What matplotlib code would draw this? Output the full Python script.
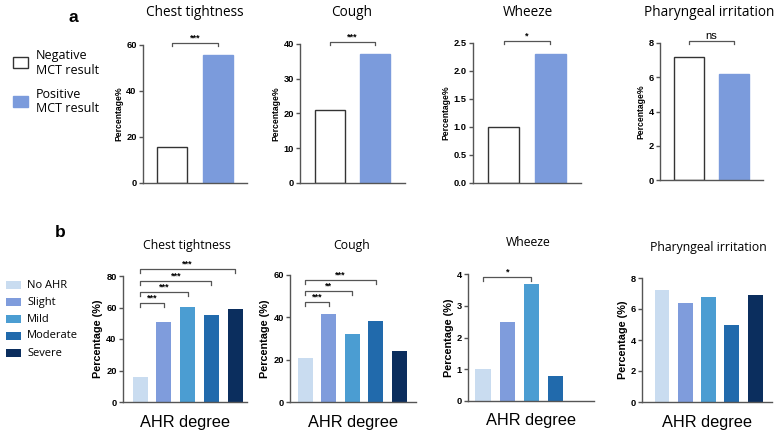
import matplotlib
matplotlib.use("Agg")
import matplotlib.pyplot as plt
from matplotlib.patches import Rectangle
import matplotlib.transforms as mtransforms

W, H = 779, 433

# ---- data ----
symptoms = ["Chest tightness", "Cough", "Wheeze", "Pharyngeal irritation"]
mct_groups = ["Negative\nMCT result", "Positive\nMCT result"]
mct_negative = [15.5, 21, 1.0, 7.2]
mct_positive = [55.5, 37, 2.3, 6.2]
mct_sig = ["***", "***", "*", "ns"]
mct_yticks = [[0, 20, 40, 60], [0, 10, 20, 30, 40],
              [0.0, 0.5, 1.0, 1.5, 2.0, 2.5], [0, 2, 4, 6, 8]]

ahr_levels = ["No AHR", "Slight", "Mild", "Moderate", "Severe"]
ahr_chest = [16, 51, 60.5, 55.5, 59]
ahr_cough = [21, 41.5, 32, 38.5, 24]
ahr_wheeze = [1.0, 2.5, 3.7, 0.8, 0]
ahr_pharyn = [7.2, 6.4, 6.8, 5.0, 6.9]
ahr_yticks = [[0, 20, 40, 60, 80], [0, 20, 40, 60], [0, 1, 2, 3, 4], [0, 2, 4, 6, 8]]
# (group i, group j, label)
ahr_sig = [
    [(0, 1, "***"), (0, 2, "***"), (0, 3, "***"), (0, 4, "***")],
    [(0, 1, "***"), (0, 2, "**"), (0, 3, "***")],
    [(0, 2, "*")],
    [],
]

pos_color = "#7b9bdc"
ahr_colors = ["#c9dcf0", "#7f9cdc", "#4b9dd2", "#216aac", "#0b2e5e"]
axis_color = "#555555"

title_font = "Open Sans"
tick_font = "Liberation Sans"

fig = plt.figure(figsize=(W / 100, H / 100), dpi=100)


def px_axes(left, top, right, bottom):
    return fig.add_axes([left / W, 1 - bottom / H, (right - left) / W, (bottom - top) / H])


def style(ax, yticks, ylabel, lab_size):
    ax.set_ylim(yticks[0], yticks[-1])
    ax.set_yticks(yticks)
    ax.set_xticks([])
    for s in ["top", "right"]:
        ax.spines[s].set_visible(False)
    for s in ["left", "bottom"]:
        ax.spines[s].set_color(axis_color)
        ax.spines[s].set_linewidth(1.0)
    ax.tick_params(axis="y", length=3, width=1.0, color=axis_color, pad=1.5)
    labels = [f"{t:.1f}" if isinstance(t, float) else str(t) for t in yticks]
    ax.set_yticklabels(labels, fontsize=6.7, fontweight="bold", family=tick_font)
    ax.set_ylabel(ylabel, fontsize=lab_size, fontweight="bold", family=tick_font, labelpad=2)


def bracket(ax, x0, x1, yfrac, label, tick=0.022):
    tr = mtransforms.blended_transform_factory(ax.transData, ax.transAxes)
    ax.plot([x0, x0, x1, x1], [yfrac - tick, yfrac, yfrac, yfrac - tick],
            color=axis_color, lw=0.9, transform=tr, clip_on=False)
    ax.text((x0 + x1) / 2, yfrac + 0.005, label, ha="center", va="bottom",
            fontsize=6.5 if label != "ns" else 8, family=tick_font,
            fontweight="bold" if label != "ns" else "normal",
            transform=tr, clip_on=False)


# ---- panel a ----
a_boxes = [(143, 45, 247, 183), (300, 44, 405, 183), (473, 43, 581, 183), (660, 43, 763, 180)]
a_title_x = [195, 352, 528, 709]
for i, (l, t, r, b) in enumerate(a_boxes):
    ax = px_axes(l, t, r, b)
    ax.bar([0, 1], [mct_negative[i], mct_positive[i]], width=0.66,
           color=["white", pos_color], edgecolor=["#333333", pos_color], linewidth=1.0)
    ax.set_xlim(-0.65, 1.65)
    style(ax, mct_yticks[i], "Percentage%", 6.2)
    bracket(ax, 0, 1, 1.012, mct_sig[i])
    fig.text(a_title_x[i] / W, 1 - 12 / H, symptoms[i], ha="center", va="center",
             fontsize=9.8, family=title_font)

fig.text(73 / W, 1 - 17 / H, "a", fontsize=12.5, fontweight="bold", family=tick_font,
         ha="center", va="center")

# legend a
for k, (yb, col, ec) in enumerate([(57, "white", "#333333"), (96, pos_color, pos_color)]):
    fig.add_artist(Rectangle((13 / W, 1 - (yb + 11) / H), 15 / W, 11 / H,
                             facecolor=col, edgecolor=ec, lw=1.0, transform=fig.transFigure))
    fig.text(36 / W, 1 - (yb + 6) / H, mct_groups[k], ha="left", va="center",
             fontsize=9, family=title_font, linespacing=1.1)

# ---- panel b ----
b_boxes = [(123, 276, 247, 402), (290, 275, 416, 402), (468, 274, 594, 401), (642, 278, 772, 402)]
b_xlims = [(-0.72, 4.5), (-0.64, 4.72), (-0.63, 4.6), (-0.86, 4.72)]
b_levels = [[0.786, 0.873, 0.962, 1.055], [0.787, 0.874, 0.96], [0.976], []]
b_titles_y = [245, 245, 243, 248]
b_title_x = [187, 352, 528, 708]
ahr_data = [ahr_chest, ahr_cough, ahr_wheeze, ahr_pharyn]
for i, (l, t, r, b) in enumerate(b_boxes):
    ax = px_axes(l, t, r, b)
    ax.bar(range(len(ahr_levels)), ahr_data[i], width=0.64, color=ahr_colors)
    ax.set_xlim(*b_xlims[i])
    style(ax, ahr_yticks[i], "Percentage (%)", 7.8)
    for (g0, g1, lab), yf in zip(ahr_sig[i], b_levels[i]):
        bracket(ax, g0, g1, yf, lab, tick=0.03)
    ax.set_xlabel("AHR degree", fontsize=11.8, family=tick_font, labelpad=9)
    fig.text(b_title_x[i] / W, 1 - b_titles_y[i] / H, symptoms[i], ha="center", va="center",
             fontsize=8.8, family=title_font)

fig.text(60 / W, 1 - 233 / H, "b", fontsize=12.5, fontweight="bold", family=tick_font,
         ha="center", va="center")

# legend b
for k, lev in enumerate(ahr_levels):
    yc = 285 + 17 * k
    fig.add_artist(Rectangle((6 / W, 1 - (yc + 4) / H), 15 / W, 8 / H,
                             facecolor=ahr_colors[k], edgecolor="none", transform=fig.transFigure))
    fig.text(27 / W, 1 - yc / H, lev, ha="left", va="center", fontsize=8, family=title_font)

fig.savefig("out.png", dpi=100)
